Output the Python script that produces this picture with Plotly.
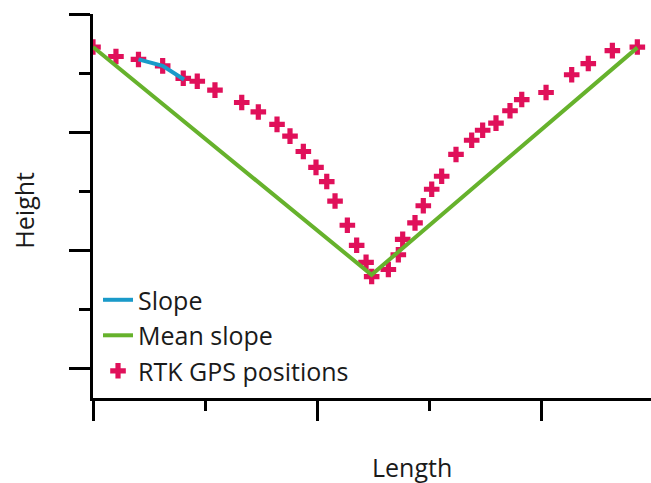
import plotly.graph_objects as go

# RTK GPS positions (length, height) in axis units
gps_length = [0.0, 0.205, 0.406, 0.622, 0.806, 0.931, 1.089, 1.328, 1.476, 1.643,
              1.759, 1.878, 1.991, 2.087, 2.161, 2.271, 2.354, 2.438, 2.488, 2.637,
              2.726, 2.765, 2.875, 2.949, 3.024, 3.113, 3.241, 3.381, 3.479, 3.598,
              3.723, 3.828, 4.045, 4.274, 4.422, 4.637, 4.860]
gps_height = [5.44, 5.28, 5.23, 5.12, 4.91, 4.86, 4.71, 4.50, 4.34, 4.13,
              3.93, 3.67, 3.40, 3.16, 2.83, 2.42, 2.08, 1.79, 1.55, 1.67,
              1.92, 2.18, 2.46, 2.75, 3.03, 3.25, 3.62, 3.86, 4.03, 4.15,
              4.36, 4.55, 4.67, 4.97, 5.16, 5.38, 5.44]

slope_length = [0.406, 0.622, 0.8125]
slope_height = [5.23, 5.12, 4.89]

mean_length = [0.0, 2.487, 4.86]
mean_height = [5.44, 1.58, 5.43]

x_range = [0, 4.982]
y_range = [-0.508, 6]

FONT = "Open Sans"
TXT = "#1a1a1a"
FS = 25

fig = go.Figure()
fig.add_trace(go.Scatter(x=gps_length, y=gps_height, mode="markers", name="RTK GPS positions",
                         legendrank=3,
                         marker=dict(symbol="cross", size=13, color="#e0105a",
                                     line=dict(width=0))))
fig.add_trace(go.Scatter(x=mean_length, y=mean_height, mode="lines", name="Mean slope",
                         legendrank=2, line=dict(color="#66b22c", width=4)))
fig.add_trace(go.Scatter(x=slope_length, y=slope_height, mode="lines", name="Slope",
                         legendrank=1, line=dict(color="#1a9ac9", width=4)))

fig.update_layout(
    width=651, height=483,
    margin=dict(l=93, r=0, t=14, b=85),
    paper_bgcolor="white", plot_bgcolor="white",
    font=dict(family=FONT, size=FS, color=TXT),
    showlegend=True,
    legend=dict(x=0.009, y=0.315, xanchor="left", yanchor="top", traceorder="normal",
                bgcolor="rgba(0,0,0,0)", font=dict(size=FS, family=FONT, color=TXT),
                tracegroupgap=0, itemwidth=30),
    xaxis=dict(range=x_range, showgrid=False, zeroline=False, showline=True,
               linecolor="black", linewidth=3, ticks="outside", ticklen=20,
               tickwidth=3, tickcolor="black", dtick=2, tick0=0, showticklabels=False,
               minor=dict(ticks="outside", ticklen=10, tickwidth=3, tickcolor="black",
                          dtick=1, tick0=0, showgrid=False)),
    yaxis=dict(range=y_range, showgrid=False, zeroline=False, showline=True,
               linecolor="black", linewidth=3, ticks="outside", ticklen=21,
               tickwidth=3, tickcolor="black", dtick=2, tick0=0, showticklabels=False,
               minor=dict(ticks="outside", ticklen=11, tickwidth=3, tickcolor="black",
                          dtick=1, tick0=0, showgrid=False)),
    annotations=[
        dict(text="Height", xref="paper", yref="paper", x=-0.124, y=0.49,
             showarrow=False, textangle=-90, font=dict(size=FS, family=FONT, color=TXT),
             xanchor="center", yanchor="middle"),
        dict(text="Length", xref="paper", yref="paper", x=0.5717, y=-0.1797,
             showarrow=False, font=dict(size=FS, family=FONT, color=TXT),
             xanchor="center", yanchor="middle"),
    ],
)

fig.write_html("out.html")
